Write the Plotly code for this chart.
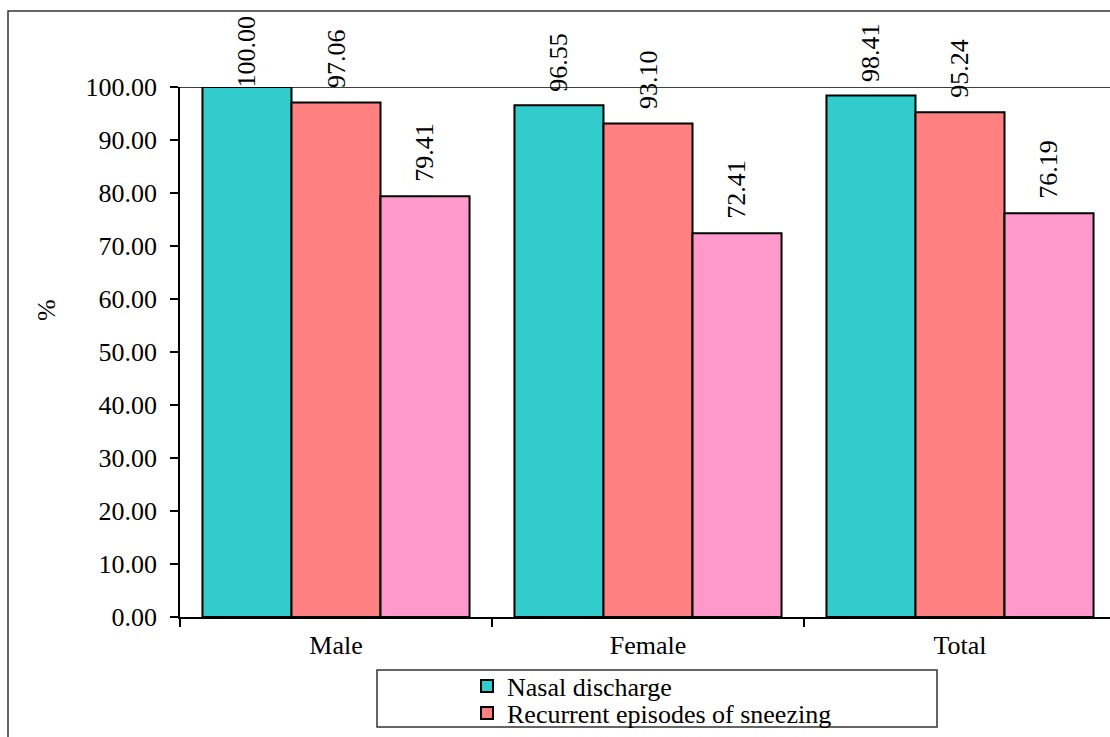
import plotly.graph_objects as go

# Categories and series values (%)
groups = ["Male", "Female", "Total"]
nasal_discharge = [100.00, 96.55, 98.41]
sneezing = [97.06, 93.10, 95.24]
third_symptom = [79.41, 72.41, 76.19]

series_names = ["Nasal discharge", "Recurrent episodes of sneezing", "Series 3"]
series_colors = ["#33CCCC", "#FF8080", "#FF99CC"]
series_legends = ["legend", "legend2", None]
y_ticks = [0, 10, 20, 30, 40, 50, 60, 70, 80, 90, 100]

FONT = "Liberation Serif, Times New Roman, serif"
FS = 26
W, H = 1110, 737
ML, MR, MT, MB = 180, 0, 87, 120
BARGAP = 0.144
Y_MAX = 100

plot_w = W - ML - MR
plot_h = H - MT - MB
px_per_unit = plot_h / Y_MAX


def px_x(p):
    return (p - ML) / plot_w


def px_y(p):
    return (H - MB - p) / plot_h


fig = go.Figure()
all_series = [nasal_discharge, sneezing, third_symptom]
for name, vals, col, leg in zip(series_names, all_series, series_colors, series_legends):
    fig.add_trace(go.Bar(
        x=groups, y=vals, name=name,
        showlegend=leg is not None, legend=leg or "legend",
        marker=dict(color=col, line=dict(color="black", width=2)),
    ))

# Value labels, rotated, sitting above each bar
n = len(all_series)
bar_w = (1 - BARGAP) / n
annotations = []
char_w = {".": 0.25}
for j, vals in enumerate(all_series):
    for i, v in enumerate(vals):
        txt = f"{v:.2f}"
        text_len = sum(char_w.get(c, 0.5) for c in txt) * FS
        bar_top_px = MT + (Y_MAX - v) * px_per_unit
        shift = min(12, bar_top_px - 18 - text_len)
        annotations.append(dict(
            x=i + (j - (n - 1) / 2) * bar_w, y=v, xref="x", yref="y",
            text=txt, textangle=-90, showarrow=False,
            yanchor="bottom", xanchor="center", yshift=shift,
            font=dict(family=FONT, size=FS, color="black"),
        ))

# Axis title
annotations.append(dict(
    x=px_x(46), y=px_y(310), xref="paper", yref="paper", text="%", showarrow=False,
    xanchor="center", yanchor="middle",
    textangle=-90, font=dict(family=FONT, size=FS, color="black"),
))

shapes = [
    # chart frame
    dict(type="rect", xref="paper", yref="paper",
         x0=px_x(8), x1=px_x(1130), y0=px_y(760), y1=px_y(11),
         line=dict(color="#333333", width=1.5), fillcolor="rgba(0,0,0,0)", layer="below"),
    # plot area top edge at 100
    dict(type="line", xref="paper", yref="y", x0=0, x1=1, y0=Y_MAX, y1=Y_MAX,
         line=dict(color="black", width=1.5), layer="below"),
    # legend frame
    dict(type="rect", xref="paper", yref="paper",
         x0=px_x(377), x1=px_x(937), y0=px_y(727), y1=px_y(670),
         line=dict(color="#333333", width=1.5), fillcolor="white", layer="below"),
]

legend_style = dict(
    xanchor="left", yanchor="middle",
    bgcolor="rgba(0,0,0,0)", borderwidth=0,
    font=dict(family=FONT, size=FS, color="black"),
    tracegroupgap=0, itemwidth=30,
)

fig.update_layout(
    width=W, height=H,
    margin=dict(l=ML, r=MR, t=MT, b=MB, pad=0, autoexpand=False),
    paper_bgcolor="white", plot_bgcolor="white",
    barmode="group", bargap=BARGAP, bargroupgap=0,
    font=dict(family=FONT, size=FS, color="black"),
    showlegend=True,
    legend=dict(x=px_x(467), y=px_y(686), **legend_style),
    legend2=dict(x=px_x(467), y=px_y(713), **legend_style),
    annotations=annotations,
    shapes=shapes,
)
fig.update_xaxes(
    type="category", range=[-0.5, -0.5 + plot_w / 312],
    showline=True, linecolor="black", linewidth=1.5,
    ticks="outside", tickson="boundaries", ticklen=8, tickcolor="black", tickwidth=1.5,
    ticklabelstandoff=4,
    showgrid=False, zeroline=False,
    tickfont=dict(family=FONT, size=FS, color="black"),
)
fig.update_yaxes(
    range=[0, Y_MAX], tickvals=y_ticks, tickformat=".2f",
    showline=True, linecolor="black", linewidth=1.5,
    ticks="outside", ticklen=8, tickcolor="black", tickwidth=1.5,
    ticklabelstandoff=8,
    showgrid=False, zeroline=False,
    tickfont=dict(family=FONT, size=FS, color="black"),
)

fig.write_html("out.html")
